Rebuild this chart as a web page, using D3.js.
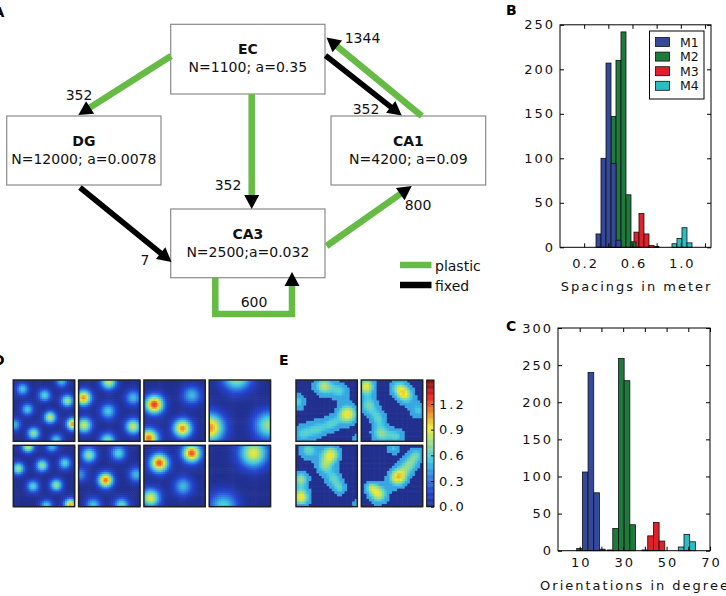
<!DOCTYPE html>
<html>
<head>
<meta charset="utf-8">
<script src="https://cdn.jsdelivr.net/npm/d3@7"></script>
<style>
  body { margin: 0; background: #fff; }
  svg { display: block; font-family: "DejaVu Sans", sans-serif; }
</style>
</head>
<body>
<svg id="fig" width="726" height="596"></svg>
<script>
// ---- data ----
const modules = ["M1", "M2", "M3", "M4"];
const moduleColors = ["#34499c", "#1d7a3c", "#e0202a", "#2bbcc4"];

// B: spacing histogram (bin start, counts per bin)
const spacingBinWidth = 0.0414;
const spacingStarts = [0.298, 0.422, 0.571, 0.927];
const spacingCounts = [
  [15, 100, 207, 94, 8],
  [147, 210, 242, 59, 6],
  [6, 17, 38, 15, 2, 1],
  [4, 10, 22, 5]
];
const spacingTicks = [0.2, 0.4, 0.6, 0.8, 1.0, 1.2];
const spacingTickLabels = [0.2, 0.6, 1.0];
const spacingYTicks = [0, 50, 100, 150, 200, 250];

// C: orientation histogram
const orientBinWidth = 2.62;
const orientStarts = [8.6, 22.6, 38.7, 55.4];
const orientCounts = [
  [3, 106, 240, 78, 2],
  [1, 30, 259, 229, 35],
  [1, 20, 38, 13],
  [5, 22, 12]
];
const orientTicks = [10, 20, 30, 40, 50, 60, 70];
const orientTickLabels = [10, 30, 50, 70];
const orientYTicks = [0, 50, 100, 150, 200, 250, 300];

// A: network
const regions = ["EC", "DG", "CA1", "CA3"];
const regionStats = ["N=1100; a=0.35", "N=12000; a=0.0078", "N=4200; a=0.09", "N=2500;a=0.032"];
const connFrom = ["EC", "EC", "DG", "CA3", "CA3", "CA1", "EC"];
const connTo = ["DG", "CA3", "CA3", "CA1", "CA3", "EC", "CA1"];
const connCount = [352, 352, 7, 800, 600, 1344, 352];
const connKind = ["plastic", "plastic", "fixed", "plastic", "plastic", "plastic", "fixed"];
const kinds = ["plastic", "fixed"];

// D: grid-cell firing fields per map [u, v, peak] (u,v in 0..1 of the map)
const gridFields = [
  [[.15,.15,.55],[.79,.02,.5],[.51,.25,.6],[.88,.34,.75],[.23,.48,.55],[.60,.61,.85],[.97,.72,1.1],[.02,.73,.5],[.33,.87,.75],[.70,.98,.55]],
  [[.49,.03,.85],[.08,.29,1.1],[.89,.29,.5],[.48,.51,.55],[.09,.74,.85],[.89,.76,.85],[.47,.99,.7]],
  [[.17,.40,1.25],[.78,.25,.5],[.63,.79,1.1],[.08,.95,1.15]],
  [[.45,-.05,.8],[.01,.78,1.1],[.97,.74,.75]],
  [[.24,.02,.85],[.63,.02,.5],[.08,.38,.75],[.47,.33,.75],[.84,.29,.6],[.32,.67,.6],[.70,.65,.75],[.93,.97,1.05],[.54,.99,.6]],
  [[.17,.16,.75],[.65,.13,.6],[.44,.57,1.15],[.94,.48,.5],[.02,.48,.4],[.24,.98,.55],[.70,.98,.65]],
  [[.25,.29,1.2],[.78,.13,1.2],[.64,.67,.5],[.11,.86,.9]],
  [[.72,.13,.9],[.23,1.0,.6]]
];
const gridFieldWidths = [0.07, 0.088, 0.105, 0.16, 0.07, 0.085, 0.105, 0.16];

// E: place-like maps, blobs [u, v, peak, width]
const placeBlobs = [
  [[.45,.10,.8,.12],[.72,.18,.55,.11],[.02,.36,.6,.11],[.84,.56,.95,.13],[.10,.88,.55,.12],[.35,.80,.55,.12],[.58,.72,.5,.10],[.98,.98,.5,.07]],
  [[.08,.10,.9,.11],[.12,.42,.65,.12],[.28,.62,.5,.10],[.60,.12,.6,.11],[.72,.25,.75,.11],[.93,.50,.55,.11],[.32,.88,.7,.12],[.58,.92,.55,.10]],
  [[.20,.08,.65,.12],[.57,.15,.9,.12],[.45,.35,.55,.10],[.62,.55,.6,.11],[.72,.72,.5,.08],[.08,.55,.75,.10],[.08,.85,.95,.11],[.98,.97,.5,.07]],
  [[.52,.05,.55,.08],[.60,.52,1.0,.12],[.78,.32,.6,.11],[.90,.15,.55,.10],[.28,.80,.85,.12],[.15,.68,.5,.08]]
];
const colorbarTicks = [0.0, 0.3, 0.6, 0.9, 1.2];

// ---- drawing ----
const svg = d3.select("#fig");
const green = "#66bb44";
const tickFont = { size: 13, spacing: 2 };

const jet = d3.scaleLinear()
  .domain([0, .125, .375, .625, .875, 1].map(f => f * 1.48))
  .range(["#22308f", "#2446d6", "#42cce6", "#eeec34", "#e42222", "#801212"])
  .clamp(true);

function panelLabel(text, x, y) {
  svg.append("text").attr("x", x).attr("y", y)
    .attr("font-size", 14).attr("font-weight", "bold").text(text);
}

// histogram panel
function histogram(opts) {
  const { x, y, starts, counts, width, xTicks, xLabels, yTicks, xPad, title, titleY } = opts;
  const g = svg.append("g");
  const [x0, x1] = x.range();
  const [y0, y1] = y.range();

  // bars, later modules first so M1 ends on top
  d3.range(modules.length).reverse().forEach(m => {
    g.append("g").selectAll("rect")
      .data(counts[m].map((c, i) => ({ a: starts[m] + i * width, c })))
      .join("rect")
      .attr("x", d => x(d.a))
      .attr("width", d => x(d.a + width) - x(d.a))
      .attr("y", d => y(d.c))
      .attr("height", d => y(0) - y(d.c))
      .attr("fill", moduleColors[m])
      .attr("stroke", "#111")
      .attr("stroke-width", 0.8);
  });

  const styleAxis = sel => {
    sel.select(".domain").remove();
    sel.selectAll("line").attr("stroke", "#000");
    sel.selectAll("text").attr("font-size", tickFont.size)
      .attr("letter-spacing", tickFont.spacing).attr("fill", "#111")
      .attr("font-family", "DejaVu Sans");
  };
  const fmtX = d => xLabels.includes(d) ? (Number.isInteger(d) && x.domain()[1] > 10 ? d : d.toFixed(1)) : "";

  g.append("g").attr("transform", `translate(0,${y0})`)
    .call(d3.axisBottom(x).tickValues(xTicks).tickSizeInner(-4).tickSizeOuter(0).tickPadding(xPad).tickFormat(fmtX))
    .call(styleAxis)
    .selectAll("text").attr("dx", tickFont.spacing / 2);
  g.append("g").attr("transform", `translate(0,${y1})`)
    .call(d3.axisTop(x).tickValues(xTicks).tickSizeInner(-4).tickSizeOuter(0).tickFormat(""))
    .call(styleAxis);
  g.append("g").attr("transform", `translate(${x0},0)`)
    .call(d3.axisLeft(y).tickValues(yTicks).tickSizeInner(-4).tickSizeOuter(0).tickPadding(5))
    .call(styleAxis);
  g.append("g").attr("transform", `translate(${x1},0)`)
    .call(d3.axisRight(y).tickValues(yTicks).tickSizeInner(-4).tickSizeOuter(0).tickFormat(""))
    .call(styleAxis);

  g.append("rect").attr("x", x0).attr("y", y1).attr("width", x1 - x0).attr("height", y0 - y1)
    .attr("fill", "none").attr("stroke", "#000").attr("stroke-width", 1);

  g.append("text").attr("x", (x0 + x1) / 2 + 1).attr("y", titleY)
    .attr("text-anchor", "middle").attr("font-size", tickFont.size)
    .attr("letter-spacing", tickFont.spacing).attr("fill", "#111").text(title);
  return g;
}

const xB = d3.scaleLinear().domain([0, 1.25]).range([560, 711]);
const yB = d3.scaleLinear().domain([0, 250]).range([247.3, 24.8]);
const gB = histogram({ x: xB, y: yB, starts: spacingStarts, counts: spacingCounts, width: spacingBinWidth,
  xTicks: spacingTicks, xLabels: spacingTickLabels, yTicks: spacingYTicks, xPad: 11,
  title: "Spacings in meter", titleY: 291 });

// legend in B
const leg = gB.append("g").attr("transform", "translate(649.5,31)");
leg.append("rect").attr("width", 54.5).attr("height", 68).attr("fill", "#fff").attr("stroke", "#000");
modules.forEach((m, i) => {
  const row = leg.append("g").attr("transform", `translate(6,${11 + i * 14.6})`);
  row.append("rect").attr("y", -4.5).attr("width", 14).attr("height", 9)
    .attr("fill", moduleColors[i]).attr("stroke", "#111").attr("stroke-width", 0.8);
  row.append("text").attr("x", 24.5).attr("y", 4.5).attr("font-size", 12.5).attr("fill", "#111").text(m);
});

const xC = d3.scaleLinear().domain([0, 70]).range([558, 710]);
const yC = d3.scaleLinear().domain([0, 300]).range([550.7, 328]);
histogram({ x: xC, y: yC, starts: orientStarts, counts: orientCounts, width: orientBinWidth,
  xTicks: orientTicks, xLabels: orientTickLabels, yTicks: orientYTicks, xPad: 7,
  title: "Orientations in degree", titleY: 590 });

panelLabel("B", 506, 15);
panelLabel("C", 506, 331);

// ---- A: network diagram ----
const boxLayout = {
  EC: [170.7, 24.3, 154.3, 69.7],
  DG: [6.7, 116, 154.3, 69],
  CA1: [331, 116, 154.7, 69],
  CA3: [170.7, 209, 154.3, 68.7]
};
const routeLayout = [
  [[171, 56], [78.3, 115]],
  [[251.7, 94], [251.7, 209]],
  [[80, 187.5], [171.5, 262]],
  [[326.5, 246], [411.7, 186]],
  [[215.3, 277.7], [215.3, 314], [292, 314], [292, 272]],
  [[421.7, 116], [326.5, 37.5]],
  [[325.5, 55.5], [401.7, 115.5]]
];
const labelLayout = [[79, 100], [228, 190], [145, 265], [418, 210], [254, 307], [362.5, 43], [366, 114]];

const gA = svg.append("g");
regions.forEach((r, i) => {
  const [bx, by, bw, bh] = boxLayout[r];
  gA.append("rect").attr("x", bx).attr("y", by).attr("width", bw).attr("height", bh)
    .attr("fill", "#fff").attr("stroke", "#8a8a8a").attr("stroke-width", 1.2);
  gA.append("text").attr("x", bx + bw / 2).attr("y", by + 30).attr("text-anchor", "middle")
    .attr("font-size", 14).attr("font-weight", "bold").attr("fill", "#111").text(r);
  gA.append("text").attr("x", bx + bw / 2).attr("y", by + 47.5).attr("text-anchor", "middle")
    .attr("font-size", 14).attr("fill", "#111").text(regionStats[i]);
});

const kindColor = k => k === "plastic" ? green : "#000";
const kindWidth = k => k === "plastic" ? 6.5 : 5.5;
const line = d3.line();
connFrom.forEach((f, i) => {
  const pts = routeLayout[i].map(p => p.slice());
  const n = pts.length;
  const tip = pts[n - 1], prev = pts[n - 2];
  const len = Math.hypot(tip[0] - prev[0], tip[1] - prev[1]);
  const ux = (tip[0] - prev[0]) / len, uy = (tip[1] - prev[1]) / len;
  const headL = 14, headW = 7.5;
  const base = [tip[0] - ux * headL, tip[1] - uy * headL];
  pts[n - 1] = [tip[0] - ux * (headL - 2), tip[1] - uy * (headL - 2)];
  gA.append("path").attr("d", line(pts)).attr("fill", "none")
    .attr("stroke", kindColor(connKind[i])).attr("stroke-width", kindWidth(connKind[i]))
    .attr("stroke-linejoin", "miter");
  gA.append("path")
    .attr("d", line([tip, [base[0] - uy * headW, base[1] + ux * headW], [base[0] + uy * headW, base[1] - ux * headW]]) + "Z")
    .attr("fill", "#000");
  gA.append("text").attr("x", labelLayout[i][0]).attr("y", labelLayout[i][1])
    .attr("text-anchor", "middle").attr("font-size", 14).attr("fill", "#111").text(connCount[i]);
});

// legend of A
kinds.forEach((k, i) => {
  const ly = 265 + i * 20;
  gA.append("line").attr("x1", 400).attr("x2", 431.5).attr("y1", ly).attr("y2", ly)
    .attr("stroke", kindColor(k)).attr("stroke-width", 6.5);
  gA.append("text").attr("x", 435).attr("y", ly + 5.5).attr("font-size", 14).attr("fill", "#111").text(k);
});
panelLabel("A", -6.5, 17);

// ---- D and E: rate maps ----
const mapSize = 61.3, mapStep = 65.3;
function rateMap(x0, y0, n, valueAt) {
  const cell = d3.scaleLinear().domain([0, n]).range([0, mapSize]);
  const g = svg.append("g").attr("transform", `translate(${x0},${y0})`);
  const cells = [];
  d3.range(n).forEach(j => d3.range(n).forEach(i => {
    cells.push({ i, j, v: valueAt((i + 0.5) / n, (j + 0.5) / n) });
  }));
  g.selectAll("rect").data(cells).join("rect")
    .attr("x", d => cell(d.i)).attr("y", d => cell(d.j))
    .attr("width", cell(1) + 0.6).attr("height", cell(1) + 0.6)
    .attr("fill", d => jet(d.v));
  g.append("rect").attr("width", mapSize).attr("height", mapSize)
    .attr("fill", "none").attr("stroke", "#222").attr("stroke-width", 1.5);
}

gridFields.forEach((fields, p) => {
  const col = p % 4, row = Math.floor(p / 4);
  const w = gridFieldWidths[p];
  rateMap(13.3 + col * mapStep, 380 + row * mapStep, 32, (u, v) =>
    d3.sum(fields, f => f[2] * Math.exp(-((u - f[0]) ** 2 + (v - f[1]) ** 2) / (2 * w * w))));
});

placeBlobs.forEach((blobs, p) => {
  const col = p % 2, row = Math.floor(p / 2);
  rateMap(296 + col * mapStep, 380 + row * mapStep, 24, (u, v) => {
    const s = d3.sum(blobs, b => b[2] * Math.exp(-((u - b[0]) ** 2 + (v - b[1]) ** 2) / (2 * b[3] * b[3])));
    return s < 0.25 ? 0 : Math.max(s, 0.45);
  });
});

// colorbar
const yBar = d3.scaleLinear().domain([0, 1.48]).range([506.7, 380]);
const gBar = svg.append("g");
gBar.selectAll("rect").data(d3.range(0, 1.48, 0.01)).join("rect")
  .attr("x", 426.7).attr("width", 7.3)
  .attr("y", d => yBar(d + 0.01)).attr("height", d => yBar(d) - yBar(d + 0.01) + 0.4)
  .attr("fill", d => jet(d + 0.005));
gBar.append("rect").attr("x", 426.7).attr("y", 380).attr("width", 7.3).attr("height", 126.7)
  .attr("fill", "none").attr("stroke", "#111").attr("stroke-width", 1);
gBar.append("g").attr("transform", "translate(434,0)")
  .call(d3.axisRight(yBar).tickValues(colorbarTicks).tickSizeInner(-3).tickSizeOuter(0).tickPadding(5).tickFormat(d3.format(".1f")))
  .call(sel => {
    sel.select(".domain").remove();
    sel.selectAll("line").attr("stroke", "#111");
    sel.selectAll("text").attr("font-size", tickFont.size).attr("letter-spacing", tickFont.spacing)
      .attr("fill", "#111").attr("font-family", "DejaVu Sans");
  });

panelLabel("D", -7, 365);
panelLabel("E", 279, 365);
</script>
</body>
</html>
